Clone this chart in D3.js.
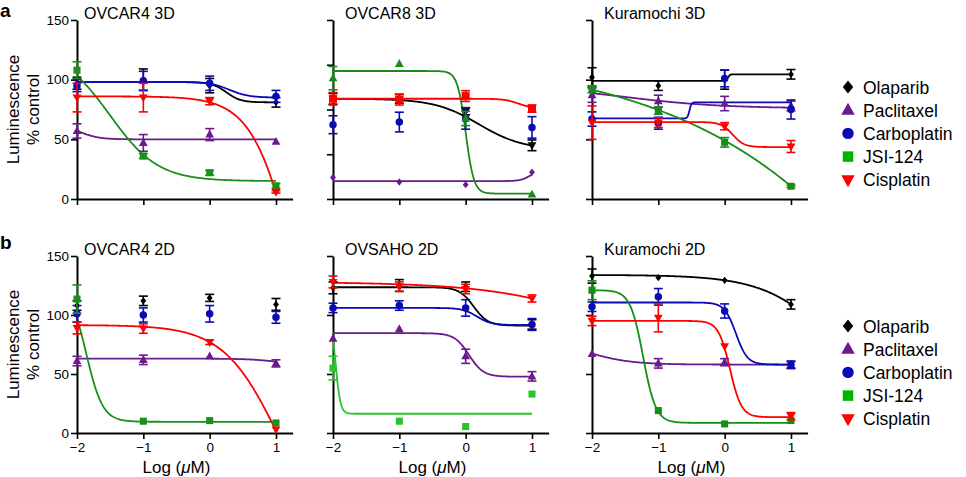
<!DOCTYPE html>
<html><head><meta charset="utf-8">
<script src="https://cdn.jsdelivr.net/npm/d3@7"></script>
<style>
body{margin:0;background:#fff}
svg{display:block}
text{font-family:"Liberation Sans",Arial,Helvetica,sans-serif;fill:#000}
</style>
</head><body>
<svg id="chart" width="966" height="477"></svg>
<script>
// ---------------- data ----------------
const doses = [-2, -1, 0, 1];                       // log10(µM)
const xTickLabels = ["\u22122", "\u22121", "0", "1"];
const yTickLabels = ["0", "50", "100", "150"];
const drugs = ["Olaparib", "Paclitaxel", "Carboplatin", "JSI-124", "Cisplatin"];
const panelTitles = ["OVCAR4 3D", "OVCAR8 3D", "Kuramochi 3D", "OVCAR4 2D", "OVSAHO 2D", "Kuramochi 2D"];
const panelLetters = ["a", "b"];
const panelYMax = [150, 200, 150, 150, 150, 150];
const defaultShapes = ["diamond", "triangle", "circle", "square", "triangleDown"];
const ovcar8Shapes = ["triangleDown", "diamond", "circle", "triangle", "square"];

// rows: drugs order above; columns: doses; fit = [top, bottom, logEC50, hill] or null
const ovcar4_3d_mean = [[97, 100, 95, 81], [57, 47, 54, 48], [95, 99, 97, 86], [108, 36, 22, 11], [85, 85, 82, 6]];
const ovcar4_3d_err  = [[5, 9, 6, 4], [6, 7, 5, 0], [5, 8, 6, 5], [7, 2, 2, 2], [12, 12, 3, 1]];
const ovcar4_3d_fit  = [[98, 81, 0.25, 4], [62, 50, -1.95, 3], [98, 85, 0.3, 3], [125, 15, -1.5, 1.2], [86, -200, 1.30, 1.347]];

const ovcar8_3d_mean = [[112, 112, 98, 60], [24, 19, 16, 30], [83, 86, 90, 80], [135, 151, 90, 5], [112, 111, 115, 101]];
const ovcar8_3d_err  = [[6, 5, 4, 6], [0, 0, 0, 0], [10, 11, 12, 12], [13, 0, 8, 0], [7, 6, 6, 4]];
const ovcar8_3d_fit  = [[112, 55, 0.2, 1.3], [20, 32, 0.97, 6], null, [143, 6, 0.0, 7], [112, 101, 0.8, 4]];

const kura_3d_mean = [[102, 95, 100, 104.5], [87, 82, 80, 78], [67, 63.5, 101, 75], [92, 74, 47.5, 10.7], [64, 64, 61, 44]];
const kura_3d_err  = [[8, 4, 8, 4], [6, 5, 6, 4], [6, 5, 7, 8], [3, 3, 4, 1], [14, 4, 3, 5]];
const kura_3d_fit  = [[99, 104.5, 0.05, 30], [95, 76, -1.5, 0.6], [67.5, 81, -0.53, 30], [124, -2000, 7.68, 0.187], [64.5, 43.5, 0.12, 5]];

const ovcar4_2d_mean = [[108, 112, 114.5, 109], [61, 62, 65, 59], [101, 100, 101, 98], [113.5, 10, 10.5, 8.5], [89, 88.5, 77, 3]];
const ovcar4_2d_err  = [[4, 4, 3, 5], [4, 4, 0, 3], [7, 6, 7, 5], [12, 0, 0, 0], [5, 4, 2, 0]];
const ovcar4_2d_fit  = [null, [63, 58, 1.0, 2], null, [125, 9.5, -1.86, 3.5], [91.5, -100, 1.055, 1.03]];

const ovsaho_2d_mean = [[123, 125, 124, 92], [80, 88, 65, 48], [106, 108, 106, 92], [55, 10, 5.5, 33], [128, 124, 122, 114]];
const ovsaho_2d_err  = [[5, 5, 4, 4], [0, 0, 6, 4], [4, 4, 7, 5], [10, 0, 0, 0], [5, 4, 4, 3]];
const ovsaho_2d_fit  = [[123.5, 91, 0.12, 4], [84.6, 47.7, 0.05, 4], [106, 91.5, 0.17, 4], [100, 16.3, -1.96, 12], [128, 0, 3.04, 0.446]];

const kura_2d_mean = [[133, 131.7, 129.4, 109], [67, 59, 60, 57.5], [107, 115.4, 103.4, 58], [121, 19, 7.7, 10.6], [95, 97.7, 73.4, 14.3]];
const kura_2d_err  = [[6, 0, 0, 4], [0, 4, 3, 3], [4, 7, 6, 3], [8, 0, 0, 0], [4, 12, 0, 3]];
const kura_2d_fit  = [[134, 0, 1.79, 0.81], [80, 58, -2.1, 1.3], [110.6, 58, 0.17, 5], [121, 8.6, -1.23, 4.5], [95, 13.4, 0.08, 5]];

// ---------------- style ----------------
const baseColors = ["#000000", "#6a1a8e", "#0b0bb4", "#1a8c1a", "#ff0000"];
const jsiColors = ["#1d8f1d", "#1a8a1a", "#1a8a1a", "#199019", "#2ac42a", "#148e14"];
const legendColors = ["#000000", "#6a1a8e", "#0b0bb4", "#00b400", "#ff0000"];

const colX = [77, 333, 592];
const rowY0 = [199, 433];
const rowYTop = [20, 256];
const xUnit = 66.33;
const titleDx = [7, 12, 12];

const panels = [
  {mean: ovcar4_3d_mean, err: ovcar4_3d_err, fit: ovcar4_3d_fit, shapes: defaultShapes},
  {mean: ovcar8_3d_mean, err: ovcar8_3d_err, fit: ovcar8_3d_fit, shapes: ovcar8Shapes},
  {mean: kura_3d_mean, err: kura_3d_err, fit: kura_3d_fit, shapes: defaultShapes},
  {mean: ovcar4_2d_mean, err: ovcar4_2d_err, fit: ovcar4_2d_fit, shapes: defaultShapes},
  {mean: ovsaho_2d_mean, err: ovsaho_2d_err, fit: ovsaho_2d_fit, shapes: defaultShapes},
  {mean: kura_2d_mean, err: kura_2d_err, fit: kura_2d_fit, shapes: defaultShapes},
];

// ---------------- symbols ----------------
const symTypes = {
  circle: {draw(c, s) { const r = Math.sqrt(s) / 2; c.moveTo(r, 0); c.arc(0, 0, r, 0, 2 * Math.PI); }},
  square: {draw(c, s) { const h = Math.sqrt(s) / 2; c.rect(-h, -h, 2 * h, 2 * h); }},
  triangle: {draw(c, s) { const a = Math.sqrt(s); c.moveTo(0, -0.6 * a); c.lineTo(0.55 * a, 0.38 * a); c.lineTo(-0.55 * a, 0.38 * a); c.closePath(); }},
  triangleDown: {draw(c, s) { const a = Math.sqrt(s); c.moveTo(0, 0.6 * a); c.lineTo(0.55 * a, -0.38 * a); c.lineTo(-0.55 * a, -0.38 * a); c.closePath(); }},
  diamond: {draw(c, s) { const a = Math.sqrt(s); c.moveTo(0, -0.58 * a); c.lineTo(0.46 * a, 0); c.lineTo(0, 0.58 * a); c.lineTo(-0.46 * a, 0); c.closePath(); }},
};
const markerSize = {circle: 56, square: 50, triangle: 64, triangleDown: 64, diamond: 40};
const legendSize = {diamond: 130, triangle: 150, circle: 130, square: 110, triangleDown: 150};

function logistic(f, x) {
  return f[1] + (f[0] - f[1]) / (1 + Math.pow(10, (x - f[2]) * f[3]));
}

// ---------------- draw ----------------
const svg = d3.select("#chart");
svg.append("rect").attr("width", 966).attr("height", 477).attr("fill", "#fff");

panels.forEach((p, i) => {
  const row = Math.floor(i / 3), col = i % 3;
  const x0 = colX[col];
  const x = d3.scaleLinear().domain([-2, 1.25]).range([x0, x0 + 3.25 * xUnit]);
  const y = d3.scaleLinear().domain([0, panelYMax[i]]).range([rowY0[row], rowYTop[row]]);
  const g = svg.append("g");

  // axes
  const yTickVals = d3.range(0, panelYMax[i] + 1, 50);
  const yAx = d3.axisLeft(y).tickValues(yTickVals).tickSize(6).tickSizeOuter(0)
    .tickFormat(col === 0 ? (d => yTickLabels[yTickVals.indexOf(d)] ?? String(d)) : () => "");
  const ga = g.append("g").attr("transform", `translate(${x0},0)`).call(yAx);
  const xAx = d3.axisBottom(x).tickValues(doses).tickSize(6).tickSizeOuter(0)
    .tickFormat(row === 1 ? ((d, k) => xTickLabels[k]) : () => "");
  const gx = g.append("g").attr("transform", `translate(0,${rowY0[row]})`).call(xAx);
  [ga, gx].forEach(a => {
    a.select(".domain").attr("stroke", "#000").attr("stroke-width", 2);
    a.selectAll(".tick line").attr("stroke", "#000").attr("stroke-width", 1.6);
    a.selectAll(".tick text").style("font-size", "13.5px").attr("fill", "#000");
  });
  ga.selectAll(".tick text").attr("x", -8);
  gx.selectAll(".tick text").attr("y", 9);

  // title
  g.append("text").attr("x", x0 + titleDx[col]).attr("y", rowYTop[row] - 1)
    .style("font-size", "16px").text(panelTitles[i]);

  // series
  const colors = baseColors.slice(); colors[3] = jsiColors[i];
  const line = d3.line().x(d => x(d[0])).y(d => y(d[1]));
  const xs = d3.range(0, 301).map(k => -2 + k * 0.01);
  p.fit.forEach((f, s) => {
    if (!f) return;
    const pts = xs.map(v => [v, logistic(f, v)]).filter(d => d[1] >= 0);
    g.append("path").attr("d", line(pts)).attr("fill", "none")
      .attr("stroke", colors[s]).attr("stroke-width", 1.8);
  });
  p.mean.forEach((m, s) => {
    const c = colors[s];
    const gs = g.append("g");
    m.forEach((v, k) => {
      const e = p.err[s][k];
      if (e > 0) {
        const cx = x(doses[k]);
        gs.append("line").attr("x1", cx).attr("x2", cx).attr("y1", y(v - e)).attr("y2", y(v + e))
          .attr("stroke", c).attr("stroke-width", 1.6);
        [v - e, v + e].forEach(t => gs.append("line").attr("x1", cx - 4.5).attr("x2", cx + 4.5)
          .attr("y1", y(t)).attr("y2", y(t)).attr("stroke", c).attr("stroke-width", 1.6));
      }
    });
    const shape = p.shapes[s];
    const sz = (i === 1 && shape === "square") ? 64 : markerSize[shape];
    gs.selectAll("path.pt").data(m).join("path").attr("class", "pt")
      .attr("transform", (v, k) => `translate(${x(doses[k])},${y(v)})`)
      .attr("d", d3.symbol().type(symTypes[shape]).size(sz))
      .attr("fill", c);
  });

  // x axis title
  if (row === 1) {
    const t = g.append("text").attr("x", x(-0.5)).attr("y", 473).attr("text-anchor", "middle")
      .style("font-size", "17px");
    t.append("tspan").text("Log (");
    t.append("tspan").style("font-style", "italic").text("\u03bc");
    t.append("tspan").text("M)");
  }
  // y axis title
  if (col === 0) {
    const cy = (rowY0[row] + rowYTop[row]) / 2;
    const t = g.append("text").attr("transform", `translate(19,${cy}) rotate(-90)`)
      .attr("text-anchor", "middle").style("font-size", "17px");
    t.append("tspan").attr("x", 0).attr("dy", 0).text("Luminescence");
    t.append("tspan").attr("x", 0).attr("dy", 20).text("% control");
  }
});

// panel letters
panelLetters.forEach((L, r) => {
  svg.append("text").attr("x", 0).attr("y", r === 0 ? 17 : 249)
    .style("font-size", "19px").style("font-weight", "bold").text(L);
});

// legends
const legendTop = [87, 326];
legendTop.forEach(ly => {
  const lg = svg.append("g");
  drugs.forEach((d, s) => {
    const yy = ly + s * 23.2;
    lg.append("path").attr("transform", `translate(848,${yy})`)
      .attr("d", d3.symbol().type(symTypes[defaultShapes[s]]).size(legendSize[defaultShapes[s]]))
      .attr("fill", legendColors[s]);
    lg.append("text").attr("x", 863).attr("y", yy + 6.5).style("font-size", "17.5px").text(d);
  });
});
</script>
</body></html>
